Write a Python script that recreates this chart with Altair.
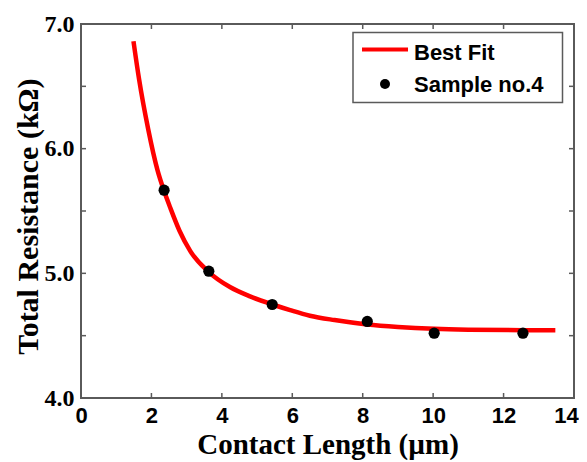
import altair as alt
import pandas as pd

# Measured sample points
sample_x = [2.36, 3.63, 5.43, 8.13, 10.03, 12.55]
sample_y = [5.667, 5.017, 4.75, 4.614, 4.52, 4.52]

# Best-fit curve
fit_x = [1.49, 1.65, 1.91, 2.17, 2.36, 2.53, 2.80, 3.10, 3.63, 4.23, 4.80, 5.44,
         5.94, 6.50, 7.20, 8.13, 9.00, 10.03, 11.00, 12.55, 13.47]
fit_y = [6.862, 6.555, 6.154, 5.83, 5.66, 5.53, 5.34, 5.18, 5.01, 4.89, 4.815, 4.75,
         4.705, 4.66, 4.625, 4.59, 4.57, 4.555, 4.548, 4.544, 4.544]

x_ticks = [0, 2, 4, 6, 8, 10, 12, 14]
y_ticks = [4.0, 4.5, 5.0, 5.5, 6.0, 6.5, 7.0]
y_labels = [4.0, 5.0, 6.0, 7.0]

legend_labels = ["Best Fit", "Sample no.4"]

W, H = 493, 374
FRAME = "#5a5a5a"

pts = pd.DataFrame({"x": sample_x, "y": sample_y})
fit = pd.DataFrame({"x": fit_x, "y": fit_y})
xt = pd.DataFrame({"v": x_ticks})
yt = pd.DataFrame({"v": y_ticks})

xscale = alt.Scale(domain=[0, 14], nice=False, zero=False)
yscale = alt.Scale(domain=[4.0, 7.0], nice=False, zero=False)

xaxis = alt.Axis(values=x_ticks, format="d", ticks=False, domain=False, grid=False,
                 labelFont="Liberation Sans", labelFontWeight="bold", labelFontSize=22,
                 labelColor="black", labelPadding=7, labelFlush=False,
                 labelOffset={"condition": {"test": "datum.value == 14", "value": -8}, "value": 0},
                 title="Contact Length (µm)", titleFont="Liberation Serif",
                 titleFontWeight="bold", titleFontSize=29, titleColor="black",
                 titleBaseline="alphabetic", titleY=55, titleX=W / 2, titleAlign="center")
yaxis = alt.Axis(values=y_labels, format=".1f", ticks=False, domain=False, grid=False,
                 labelFont="Liberation Serif", labelFontWeight="bold", labelFontSize=24,
                 labelColor="black", labelPadding=7, labelFlush=False,
                 title="Total Resistance (kΩ)", titleFont="Liberation Serif",
                 titleFontWeight="bold", titleFontSize=30, titleColor="black",
                 titleAngle=-90, titleBaseline="alphabetic", titleX=-44, titleY=192,
                 titleAlign="center")

curve = alt.Chart(fit).mark_line(color="#ff0000", strokeWidth=4.5, interpolate="monotone").encode(
    x=alt.X("x:Q", scale=xscale, axis=xaxis),
    y=alt.Y("y:Q", scale=yscale, axis=yaxis),
)
dots = alt.Chart(pts).mark_circle(color="black", size=125, opacity=1).encode(
    x=alt.X("x:Q", scale=xscale), y=alt.Y("y:Q", scale=yscale)
)

tick_style = dict(color=FRAME, strokeWidth=1.5)
bottom_ticks = alt.Chart(xt).mark_rule(**tick_style).encode(
    x=alt.X("v:Q", scale=xscale), y=alt.value(H), y2=alt.value(H - 5))
top_ticks = alt.Chart(xt).mark_rule(**tick_style).encode(
    x=alt.X("v:Q", scale=xscale), y=alt.value(0), y2=alt.value(5))
left_ticks = alt.Chart(yt).mark_rule(**tick_style).encode(
    y=alt.Y("v:Q", scale=yscale), x=alt.value(0), x2=alt.value(5))
right_ticks = alt.Chart(yt).mark_rule(**tick_style).encode(
    y=alt.Y("v:Q", scale=yscale), x=alt.value(W), x2=alt.value(W - 5))

# Legend
leg = pd.DataFrame({"label": legend_labels})
leg_box = alt.Chart(leg.head(1)).mark_rect(fill="white", stroke=FRAME, strokeWidth=1.5).encode(
    x=alt.value(272), x2=alt.value(481.5), y=alt.value(8.5), y2=alt.value(78.5))
leg_line = alt.Chart(leg.head(1)).mark_rule(color="#ff0000", strokeWidth=4).encode(
    x=alt.value(281), x2=alt.value(327), y=alt.value(25.5))
leg_dot = alt.Chart(leg.head(1)).mark_circle(color="black", size=100, opacity=1).encode(
    x=alt.value(304), y=alt.value(60))
leg_t1 = alt.Chart(leg.iloc[[0]]).mark_text(
    font="Liberation Sans", fontWeight="bold", fontSize=22, align="left",
    baseline="alphabetic", color="black").encode(
    x=alt.value(333), y=alt.value(35.5), text="label:N")
leg_t2 = alt.Chart(leg.iloc[[1]]).mark_text(
    font="Liberation Sans", fontWeight="bold", fontSize=22, align="left",
    baseline="alphabetic", color="black").encode(
    x=alt.value(333), y=alt.value(68), text="label:N")

chart = alt.layer(
    curve, dots, bottom_ticks, top_ticks, left_ticks, right_ticks,
    leg_box, leg_line, leg_dot, leg_t1, leg_t2
).properties(
    width=W, height=H,
    background="white",
    autosize=alt.AutoSizeParams(type="none"),
    padding={"left": 73, "top": 16, "right": 5, "bottom": 62},
).configure_view(
    stroke=FRAME, strokeWidth=2
)

chart.save("out.html", embed_options={"renderer": "svg", "actions": False})
